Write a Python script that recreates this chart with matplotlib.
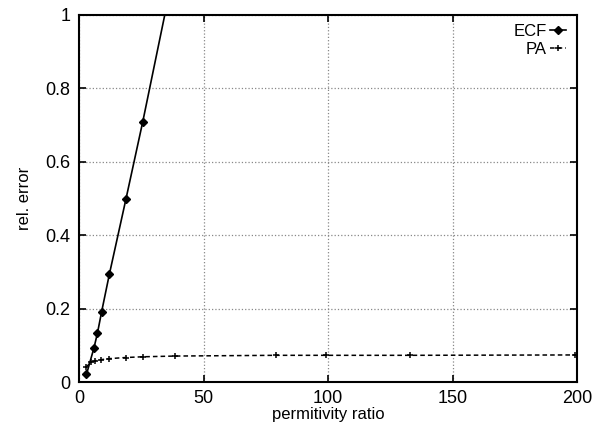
import numpy as np
import matplotlib
matplotlib.use("Agg")
import matplotlib.pyplot as plt
from matplotlib.ticker import FormatStrFormatter, MultipleLocator

plt.rcParams["font.family"] = ["Liberation Sans", "DejaVu Sans"]

# ECF: effective conductivity formula, PA: proposed approximation
ecf_x = [3, 6, 7.4, 9.1, 12.2, 18.9, 25.6, 39]
ecf_err = [0.021, 0.093, 0.133, 0.192, 0.294, 0.50, 0.709, 1.15]

pa_x = [3, 4.8, 6.4, 8.8, 12.2, 18.7, 25.6, 38.6, 79, 99.2, 133, 199]
pa_err = [0.042, 0.054, 0.058, 0.061, 0.064, 0.067, 0.069, 0.071,
          0.073, 0.073, 0.073, 0.074]

fig = plt.figure(figsize=(6.03, 4.26), dpi=100)
ax = fig.add_axes([0.131, 0.103, 0.826, 0.862])

ax.plot(ecf_x, ecf_err, color="black", linewidth=1.2,
        marker="D", markersize=4.5, label="ECF")
ax.plot(pa_x, pa_err, color="black", linewidth=1.1, linestyle=(0, (3, 2)),
        marker="+", markersize=5, markeredgewidth=1.1, label="PA")

ax.set_xlim(0, 200)
ax.set_ylim(0, 1)
ax.xaxis.set_major_locator(MultipleLocator(50))
ax.yaxis.set_major_locator(MultipleLocator(0.2))
ax.yaxis.set_major_formatter(FormatStrFormatter("%g"))
ax.tick_params(direction="in", top=True, right=True, length=5,
               width=1.2, labelsize=13, pad=6)
ax.grid(True, color="#888888", linestyle=":", linewidth=0.9)
for s in ax.spines.values():
    s.set_linewidth(1.5)

ax.set_xlabel("permitivity ratio", fontsize=12, labelpad=0)
ax.set_ylabel("rel. error", fontsize=12, labelpad=10)

leg = ax.legend(loc="upper right", bbox_to_anchor=(0.982, 0.981),
                markerfirst=False, frameon=False,
                fontsize=12, handlelength=1.0, handletextpad=0.2,
                labelspacing=0.22, borderaxespad=0.0, borderpad=0.1,
                numpoints=1, markerscale=0.8)

fig.savefig("out.png", dpi=100)
